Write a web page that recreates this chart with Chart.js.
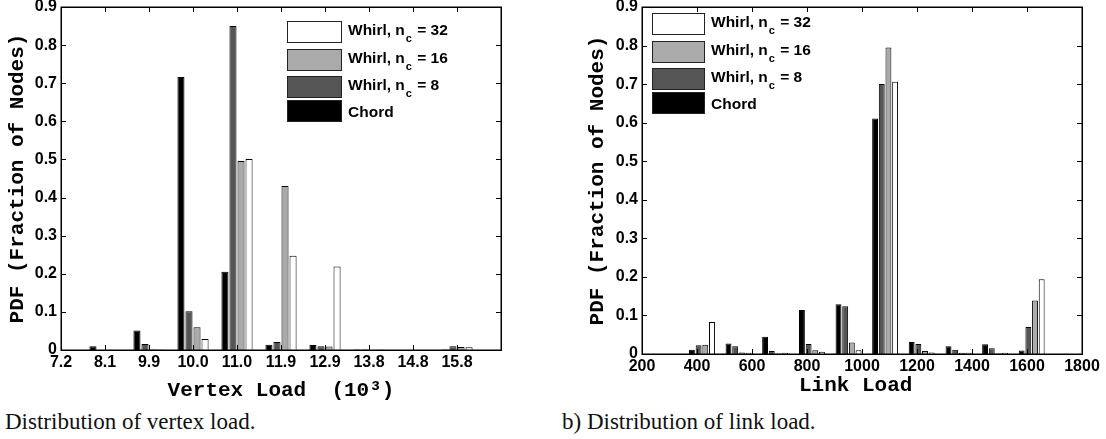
<!DOCTYPE html>
<html>
<head>
<meta charset="utf-8">
<script src="https://cdn.jsdelivr.net/npm/chart.js@4.4.0/dist/chart.umd.min.js"></script>
<style>
  html, body { margin: 0; padding: 0; background: #fff; }
  #wrap { position: relative; width: 1106px; height: 439px; overflow: hidden; }
  canvas { position: absolute; top: 0; }
  .cap { position: absolute; font-family: 'Liberation Serif', serif; font-size: 23px; line-height: 23px; color: #111; white-space: nowrap; }
</style>
</head>
<body>
<div id="wrap">
  <canvas id="vertex" width="540" height="403" style="left:0"></canvas>
  <canvas id="link" width="566" height="400" style="left:540px"></canvas>
  <div class="cap" style="left:5px;top:410px">Distribution of vertex load.</div>
  <div class="cap" style="left:562px;top:410px">b) Distribution of link load.</div>
</div>
<script>
// ---- Vertex load (units of 10^3), one group of bars per category ----
const vertexCategories = ['7.2', '8.1', '9.9', '10.0', '11.0', '11.9', '12.9', '13.8', '14.8', '15.8'];
const vertexChord   = [0, 0.010, 0.051, 0.716, 0.205, 0.014, 0.013, 0.001, 0, 0.001];
const vertexWhirl8  = [0, 0,     0.016, 0.102, 0.850, 0.021, 0.010, 0.001, 0, 0.010];
const vertexWhirl16 = [0, 0,     0.002, 0.060, 0.496, 0.430, 0.009, 0,     0, 0.008];
const vertexWhirl32 = [0, 0,     0.001, 0.029, 0.501, 0.247, 0.219, 0.001, 0, 0.007];

// ---- Link load, histogram bin centres ----
const linkBinCenters = [418, 551, 684, 818, 951, 1084, 1217, 1351, 1484, 1617];
const linkChord   = [0.011, 0.027, 0.045, 0.114, 0.129, 0.611, 0.031, 0.020, 0.025, 0.009];
const linkWhirl8  = [0.023, 0.020, 0.008, 0.026, 0.124, 0.700, 0.026, 0.011, 0.015, 0.070];
const linkWhirl16 = [0.024, 0.004, 0.001, 0.010, 0.030, 0.795, 0.008, 0.003, 0.002, 0.139];
const linkWhirl32 = [0.083, 0.003, 0.003, 0.006, 0.010, 0.706, 0.004, 0.003, 0.003, 0.194];
const linkTicks = [200, 400, 600, 800, 1000, 1200, 1400, 1600, 1800];

// ---- shared y axis ----
const pdfTicks = [0, 0.1, 0.2, 0.3, 0.4, 0.5, 0.6, 0.7, 0.8, 0.9];
const pdfTickLabels = ['0', '0.1', '0.2', '0.3', '0.4', '0.5', '0.6', '0.7', '0.8', '0.9'];

// series styling: Chord, Whirl n_c = 8, 16, 32
const seriesNames = ['Chord', 'Whirl, nc = 8', 'Whirl, nc = 16', 'Whirl, nc = 32'];
const seriesColors = ['#000000', '#555555', '#aaaaaa', '#ffffff'];
// legend rows, top to bottom
const legendRows = [
  { series: 3, main: 'Whirl, n', sub: 'c', tail: ' = 32' },
  { series: 2, main: 'Whirl, n', sub: 'c', tail: ' = 16' },
  { series: 1, main: 'Whirl, n', sub: 'c', tail: ' = 8' },
  { series: 0, main: 'Chord' }
];

const tickFont = { family: "'Liberation Sans', Arial, sans-serif", weight: 'bold', size: 16 };
const titleFont = { family: "'Liberation Mono', 'Courier New', monospace", weight: 'bold', size: 21 };

// Frame with inward tick marks on all four sides, plus the in-plot legend
function frameAndLegend(leg) {
  return {
    id: 'frameAndLegend',
    afterDatasetsDraw(chart) {
      const { ctx, chartArea: a, scales } = chart;
      const xs = scales.x, ys = scales.y;
      const tl = 5;
      ctx.save();
      ctx.strokeStyle = '#000';
      ctx.lineWidth = 1;
      ctx.beginPath();
      xs.ticks.forEach(t => {
        const px = Math.round(xs.getPixelForValue(t.value)) + 0.5;
        ctx.moveTo(px, a.bottom); ctx.lineTo(px, a.bottom - tl);
        ctx.moveTo(px, a.top); ctx.lineTo(px, a.top + tl);
      });
      ys.ticks.forEach(t => {
        const py = Math.round(ys.getPixelForValue(t.value)) + 0.5;
        ctx.moveTo(a.left, py); ctx.lineTo(a.left + tl, py);
        ctx.moveTo(a.right, py); ctx.lineTo(a.right - tl, py);
      });
      ctx.stroke();
      ctx.lineWidth = 1.5;
      ctx.strokeRect(Math.round(a.left) + 0.25, Math.round(a.top) + 0.25, Math.round(a.width), Math.round(a.height));

      // legend
      const rowTops = [0, 28, 55, 79];
      ctx.lineWidth = 1;
      legendRows.forEach((r, i) => {
        const top = a.top + leg.top + rowTops[i];
        const sx = a.left + leg.swatchX;
        ctx.fillStyle = seriesColors[r.series];
        ctx.fillRect(sx, top, leg.swatchW, 22);
        ctx.strokeStyle = '#222';
        ctx.strokeRect(sx + 0.5, top + 0.5, leg.swatchW - 1, 21);
        ctx.fillStyle = '#000';
        ctx.textBaseline = 'alphabetic';
        ctx.textAlign = 'left';
        ctx.font = "bold 15.5px 'Liberation Sans', Arial, sans-serif";
        let tx = a.left + leg.textX;
        const base = top + (r.sub ? 14 : 17);
        ctx.fillText(r.main, tx, base);
        tx += ctx.measureText(r.main).width;
        if (r.sub) {
          ctx.font = "bold 11px 'Liberation Sans', Arial, sans-serif";
          ctx.fillText(r.sub, tx + 1, base + 7);
          tx += ctx.measureText(r.sub).width + 2;
          ctx.font = "bold 15.5px 'Liberation Sans', Arial, sans-serif";
          ctx.fillText(r.tail, tx, base);
        }
      });
      ctx.restore();
    }
  };
}

function makeDatasets(xVals, series) {
  return series.map((vals, s) => ({
    label: seriesNames[s],
    data: vals.map((v, i) => ({ x: xVals[i], y: v })),
    backgroundColor: seriesColors[s],
    borderColor: '#000',
    borderWidth: 1,
    borderSkipped: 'start',
    categoryPercentage: 0.73,
    barPercentage: 0.88
  }));
}

const noGrid = { display: false, drawTicks: false };

function yScale(width, titlePad) {
  return {
    type: 'linear', min: 0, max: 0.9,
    grid: noGrid, border: { display: false },
    afterBuildTicks: s => { s.ticks = pdfTicks.map(v => ({ value: v })); },
    ticks: {
      font: tickFont, color: '#000', padding: 4,
      callback: (v) => pdfTickLabels[pdfTicks.findIndex(t => Math.abs(t - v) < 1e-9)]
    },
    title: { display: true, text: 'PDF (Fraction of Nodes)', font: titleFont, color: '#000', padding: { top: titlePad, bottom: 0 } },
    afterFit: s => { s.width = width; s.paddingTop = 0; s.paddingBottom = 0; }
  };
}

Chart.defaults.animation = false;

// (a) vertex load
const vertexIdx = vertexCategories.map((_, i) => i);
new Chart(document.getElementById('vertex'), {
  type: 'bar',
  data: { datasets: makeDatasets(vertexIdx, [vertexChord, vertexWhirl8, vertexWhirl16, vertexWhirl32]) },
  options: {
    responsive: false, devicePixelRatio: 1, animation: false,
    layout: { padding: { top: 7, right: 39, bottom: 0, left: 0 } },
    plugins: { legend: { display: false }, tooltip: { enabled: false } },
    scales: {
      x: {
        type: 'linear', min: 0, max: vertexCategories.length, offset: false,
        grid: noGrid, border: { display: false },
        afterBuildTicks: s => { s.ticks = vertexIdx.concat([vertexCategories.length]).map(v => ({ value: v })); },
        ticks: { font: tickFont, color: '#000', padding: 3, maxRotation: 0, autoSkip: false,
                 callback: v => vertexCategories[v] ?? '' },
        title: { display: true, text: 'Vertex Load  (10³)', font: titleFont, color: '#000', padding: { top: 0, bottom: 0 } },
        afterFit: s => { s.height = 53; s.paddingLeft = 0; s.paddingRight = 0; }
      },
      y: yScale(61, 5.4)
    }
  },
  plugins: [frameAndLegend({ top: 14, swatchX: 226, swatchW: 55, textX: 287 })]
});

// (b) link load
new Chart(document.getElementById('link'), {
  type: 'bar',
  data: { datasets: makeDatasets(linkBinCenters, [linkChord, linkWhirl8, linkWhirl16, linkWhirl32]) },
  options: {
    responsive: false, devicePixelRatio: 1, animation: false,
    layout: { padding: { top: 7, right: 24, bottom: 0, left: 0 } },
    plugins: { legend: { display: false }, tooltip: { enabled: false } },
    scales: {
      x: {
        type: 'linear', min: 200, max: 1800, offset: false,
        grid: noGrid, border: { display: false },
        afterBuildTicks: s => { s.ticks = linkTicks.map(v => ({ value: v })); },
        ticks: { font: tickFont, color: '#000', padding: 3, maxRotation: 0, autoSkip: false,
                 callback: v => String(v) },
        title: { display: true, text: 'Link Load ', font: titleFont, color: '#000', padding: { top: 0, bottom: 1.4 } },
        afterFit: s => { s.height = 46; s.paddingLeft = 0; s.paddingRight = 0; }
      },
      y: yScale(102, 45.4)
    }
  },
  plugins: [frameAndLegend({ top: 6, swatchX: 10, swatchW: 53, textX: 69 })]
});
</script>
</body>
</html>
